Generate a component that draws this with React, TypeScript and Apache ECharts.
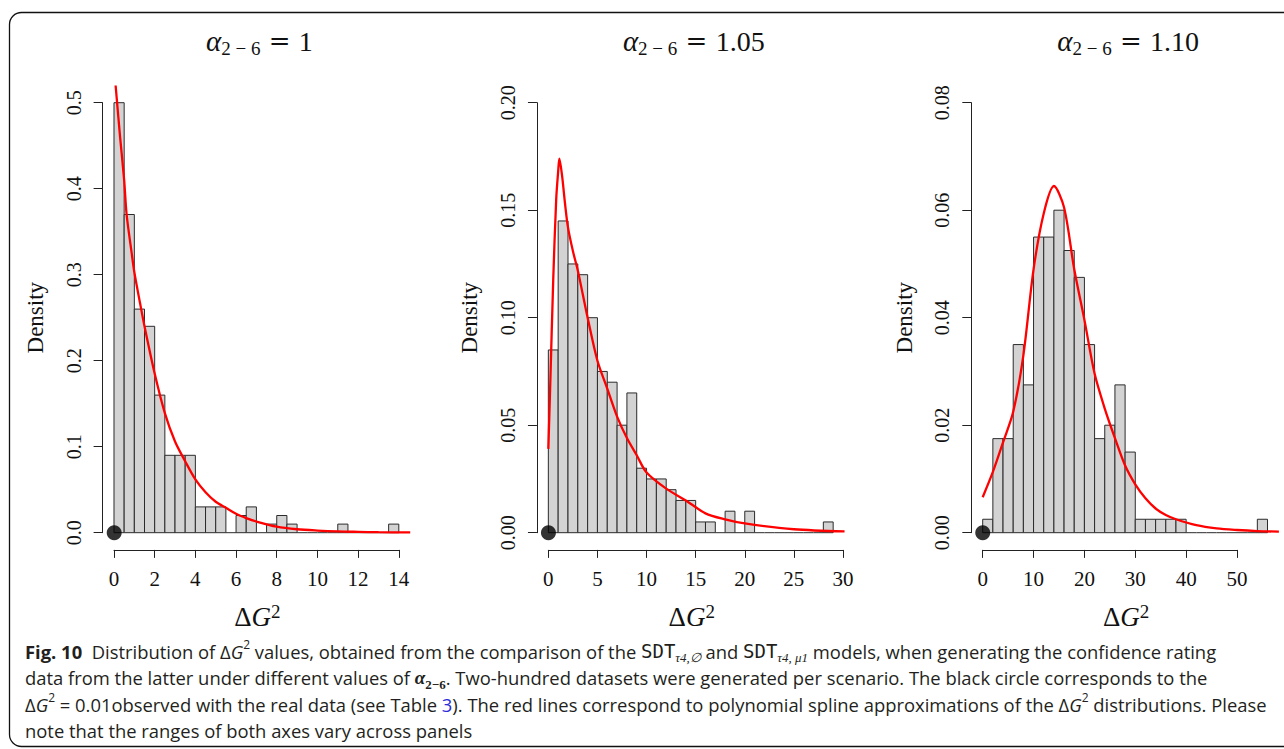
import React, { useEffect, useRef } from "react";
import * as echarts from "echarts";

// ---------- data ----------
const alphaLabels = ["1", "1.05", "1.10"];
const observedDeltaG2 = 0.01;

// Panel 1 (alpha = 1): histogram, bin width 0.5, from 0 to 14
const p1BinWidth = 0.5;
const p1Density = [
  0.5, 0.37, 0.26, 0.24, 0.16, 0.09, 0.09, 0.09, 0.03, 0.03, 0.03, 0, 0.02, 0.03,
  0, 0.01, 0.02, 0.01, 0, 0, 0, 0, 0.01, 0, 0, 0, 0, 0.01,
];
const p1Curve = [
  [0.08, 0.52], [0.3, 0.46], [0.5, 0.41], [0.62, 0.37], [0.87, 0.325], [1.0, 0.303],
  [1.28, 0.267], [1.5, 0.24], [2.0, 0.185], [2.5, 0.139], [3.0, 0.106], [3.5, 0.083],
  [4.0, 0.062], [4.5, 0.047], [5.0, 0.036], [5.5, 0.029], [6.0, 0.022], [6.5, 0.017],
  [7.0, 0.013], [8.0, 0.007], [9.0, 0.004], [10.0, 0.0025], [11.0, 0.0015], [12.0, 0.001],
  [13.0, 0.0006], [14.56, 0.0003],
];
const p1XTicks = { max: 14, interval: 2 };
const p1YTicks = { max: 0.5, interval: 0.1, digits: 1 };

// Panel 2 (alpha = 1.05): bin width 1, from 0 to 29
const p2BinWidth = 1;
const p2Density = [
  0.085, 0.145, 0.125, 0.12, 0.1, 0.075, 0.07, 0.05, 0.065, 0.03, 0.025, 0.025, 0.02,
  0.015, 0.015, 0.005, 0.005, 0, 0.01, 0, 0.01, 0, 0, 0, 0, 0, 0, 0, 0.005,
];
const p2Curve = [
  [0, 0.039], [0.2, 0.07], [0.5, 0.118], [0.8, 0.155], [1.0, 0.168], [1.12, 0.174],
  [1.4, 0.166], [1.7, 0.153], [2.0, 0.142], [2.5, 0.131], [3.0, 0.122], [3.5, 0.111],
  [4.0, 0.1], [5.0, 0.08], [6.0, 0.067], [7.0, 0.054], [8.0, 0.044], [9.0, 0.036],
  [10.0, 0.028], [12.0, 0.0205], [14.0, 0.015], [16.0, 0.009], [18.0, 0.0062],
  [20.0, 0.0043], [25.0, 0.0016], [30.16, 0.0006],
];
const p2XTicks = { max: 30, interval: 5 };
const p2YTicks = { max: 0.2, interval: 0.05, digits: 2 };

// Panel 3 (alpha = 1.10): bin width 2, from 0 to 56
const p3BinWidth = 2;
const p3Density = [
  0.0025, 0.0175, 0.0175, 0.035, 0.0275, 0.055, 0.055, 0.06, 0.0525, 0.0475, 0.035,
  0.0175, 0.02, 0.0275, 0.015, 0.0025, 0.0025, 0.0025, 0.0025, 0.0025, 0, 0, 0, 0, 0,
  0, 0, 0.0025,
];
const p3Curve = [
  [0, 0.0066], [2, 0.0113], [4, 0.0168], [6, 0.0225], [8, 0.033], [10, 0.049],
  [12, 0.0594], [14, 0.0645], [16, 0.0605], [18, 0.049], [20, 0.0396], [22, 0.0296],
  [24, 0.0231], [26, 0.0176], [28, 0.0125], [30, 0.009], [32, 0.0064], [34, 0.0045],
  [36, 0.0033], [38, 0.0025], [42, 0.0014], [46, 0.0008], [50, 0.0005], [54, 0.0003],
  [58.24, 0.0002],
];
const p3XTicks = { max: 50, interval: 10 };
const p3YTicks = { max: 0.08, interval: 0.02, digits: 2 };

const panels = [
  { binWidth: p1BinWidth, density: p1Density, curve: p1Curve, xt: p1XTicks, yt: p1YTicks },
  { binWidth: p2BinWidth, density: p2Density, curve: p2Curve, xt: p2XTicks, yt: p2YTicks },
  { binWidth: p3BinWidth, density: p3Density, curve: p3Curve, xt: p3XTicks, yt: p3YTicks },
];

// ---------- layout (R-style plot regions) ----------
const PLOT_LEFT0 = 102.6;
const PANEL_STEP = 434.35;
const PLOT_W = 307.6;
const PLOT_TOP = 85.5;
const PLOT_H = 464.4;
const SERIF = "'Liberation Serif', 'Times New Roman', serif";
const SANS = "'Open Sans', 'Noto Sans', sans-serif";
const MONO = "DejaVu Sans Mono";
const AXIS_COLOR = "#222";
const INK = "#111";
const CAP = "#231f20";
const CAP_SIZE = 18.4;

function buildOption() {
  const grids: any[] = [];
  const xAxes: any[] = [];
  const yAxes: any[] = [];
  const series: any[] = [];
  const graphics: any[] = [];

  panels.forEach((p, i) => {
    const plotLeft = PLOT_LEFT0 + PANEL_STEP * i;
    const xRange = p.density.length * p.binWidth;
    const ppuX = PLOT_W / (1.08 * xRange);
    const ppuY = PLOT_H / (1.08 * p.yt.max);
    const xOff = 0.04 * xRange * ppuX;
    const yOff = 0.04 * p.yt.max * ppuY;
    const axIdx = 2 * i;
    const plIdx = 2 * i + 1;

    // grid holding the visible R-style axes (spanning only the tick range)
    grids.push({
      left: plotLeft + xOff,
      top: PLOT_TOP + yOff,
      width: p.xt.max * ppuX,
      height: p.yt.max * ppuY,
      containLabel: false,
    });
    // grid of the full plot region (usr coordinates), where the data are drawn
    grids.push({
      left: plotLeft,
      top: PLOT_TOP,
      width: PLOT_W,
      height: PLOT_H,
      containLabel: false,
    });

    xAxes.push({
      type: "value",
      gridIndex: axIdx,
      min: 0,
      max: p.xt.max,
      interval: p.xt.interval,
      offset: yOff,
      axisLine: { show: true, onZero: false, lineStyle: { color: AXIS_COLOR, width: 1 } },
      axisTick: { show: true, length: 8, lineStyle: { color: AXIS_COLOR, width: 1 } },
      axisLabel: { fontFamily: SERIF, fontSize: 21, color: INK, margin: 19 },
      splitLine: { show: false },
    });
    xAxes.push({
      type: "value",
      gridIndex: plIdx,
      min: -0.04 * xRange,
      max: 1.04 * xRange,
      show: false,
    });
    yAxes.push({
      type: "value",
      gridIndex: axIdx,
      min: 0,
      max: p.yt.max,
      interval: p.yt.interval,
      offset: xOff,
      axisLine: { show: true, onZero: false, lineStyle: { color: AXIS_COLOR, width: 1 } },
      axisTick: { show: true, length: 9, lineStyle: { color: AXIS_COLOR, width: 1 } },
      axisLabel: {
        fontFamily: SERIF,
        fontSize: 20,
        color: INK,
        rotate: 90,
        margin: 19,
        formatter: (v: number) => v.toFixed(p.yt.digits),
      },
      splitLine: { show: false },
    });
    yAxes.push({
      type: "value",
      gridIndex: plIdx,
      min: -0.04 * p.yt.max,
      max: 1.04 * p.yt.max,
      show: false,
    });

    series.push({
      type: "custom",
      xAxisIndex: plIdx,
      yAxisIndex: plIdx,
      clip: false,
      z: 2,
      data: p.density.map((d, k) => [k * p.binWidth, (k + 1) * p.binWidth, d]),
      encode: { x: [0, 1], y: 2 },
      renderItem: (_params: any, api: any) => {
        const x0 = api.value(0);
        const x1 = api.value(1);
        const h = api.value(2);
        const a = api.coord([x0, 0]);
        const b = api.coord([x1, h]);
        if (h <= 0) {
          return {
            type: "line",
            shape: { x1: a[0], y1: a[1], x2: b[0], y2: a[1] },
            style: { stroke: "#2b2b2b", lineWidth: 1 },
          };
        }
        return {
          type: "rect",
          shape: { x: a[0], y: b[1], width: b[0] - a[0], height: a[1] - b[1] },
          style: { fill: "#d3d3d3", stroke: "#2b2b2b", lineWidth: 1 },
        };
      },
    });
    series.push({
      type: "line",
      xAxisIndex: plIdx,
      yAxisIndex: plIdx,
      data: p.curve,
      showSymbol: false,
      smooth: 0.3,
      clip: true,
      z: 4,
      lineStyle: { color: "#ff0000", width: 2.3 },
    });
    series.push({
      type: "scatter",
      xAxisIndex: plIdx,
      yAxisIndex: plIdx,
      data: [[observedDeltaG2, 0]],
      symbol: "circle",
      symbolSize: 15,
      clip: false,
      z: 5,
      itemStyle: { color: "#000" },
    });

    const cx = plotLeft + PLOT_W / 2;
    // panel title
    graphics.push({
      type: "text",
      x: cx + 3,
      y: 41,
      style: {
        text: `{a|α}{s|2 − 6}{e| = }{n|${alphaLabels[i]}}`,
        align: "center",
        verticalAlign: "middle",
        rich: {
          a: { fontFamily: SERIF, fontStyle: "italic", fontSize: 29, lineHeight: 34, fill: INK },
          s: { fontFamily: SERIF, fontSize: 19, verticalAlign: "bottom", fill: INK },
          e: { fontFamily: "'DejaVu Serif', serif", fontSize: 26, lineHeight: 34, fill: INK },
          n: { fontFamily: SERIF, fontSize: 28, lineHeight: 34, fill: INK },
        },
      },
    });
    // x label
    graphics.push({
      type: "text",
      x: cx + 1,
      y: 617,
      style: {
        text: "{d|Δ}{g|G}{s|2}",
        align: "center",
        verticalAlign: "middle",
        rich: {
          d: { fontFamily: SERIF, fontSize: 27, lineHeight: 31, fill: INK },
          g: { fontFamily: SERIF, fontStyle: "italic", fontSize: 27, lineHeight: 31, fill: INK },
          s: { fontFamily: SERIF, fontSize: 19, verticalAlign: "top", fill: INK },
        },
      },
    });
    // y label
    graphics.push({
      type: "text",
      x: plotLeft - 67,
      y: PLOT_TOP + PLOT_H / 2,
      rotation: Math.PI / 2,
      style: {
        text: "Density",
        align: "center",
        verticalAlign: "middle",
        fontFamily: SERIF,
        fontSize: 23,
        fill: INK,
      },
    });
  });

  // rounded frame around the figure
  graphics.push({
    type: "rect",
    shape: { x: 9.5, y: 12.5, width: 1300, height: 734, r: 12 },
    style: { fill: "none", stroke: INK, lineWidth: 1.3 },
    z: -1,
  });

  const capRich = {
    b: { fontFamily: SANS, fontWeight: "bold", fontSize: CAP_SIZE, lineHeight: 26, fill: CAP },
    d: { fontFamily: SANS, fontSize: CAP_SIZE, lineHeight: 26, fill: CAP },
    gi: { fontFamily: SANS, fontStyle: "italic", fontSize: CAP_SIZE, lineHeight: 26, fill: CAP },
    sup: { fontFamily: SANS, fontSize: 12, lineHeight: 12, verticalAlign: "top", fill: CAP },
    mono: { fontFamily: MONO, fontSize: 19, lineHeight: 26, fill: CAP },
    ms: { fontFamily: SERIF, fontStyle: "italic", fontSize: 13, lineHeight: 13, verticalAlign: "bottom", fill: CAP },
    ai: { fontFamily: SERIF, fontStyle: "italic", fontWeight: "bold", fontSize: 19, lineHeight: 26, fill: CAP },
    as: { fontFamily: SERIF, fontWeight: "bold", fontSize: 13, lineHeight: 13, verticalAlign: "bottom", fill: CAP },
    link: { fontFamily: SANS, fontSize: CAP_SIZE, lineHeight: 26, fill: "#2b2bd9" },
  };
  const captionLines = [
    "{b|Fig. 10}  Distribution of {d|Δ}{gi|G}{sup|2} values, obtained from the comparison of the {mono|SDT}{ms|τ4,∅} and {mono|SDT}{ms|τ4, μ1} models, when generating the confidence rating",
    "data from the latter under different values of {ai|α}{as|2−6}. Two-hundred datasets were generated per scenario. The black circle corresponds to the",
    "{d|Δ}{gi|G}{sup|2} = 0.01observed with the real data (see Table {link|3}). The red lines correspond to polynomial spline approximations of the {d|Δ}{gi|G}{sup|2} distributions. Please",
    "note that the ranges of both axes vary across panels",
  ];
  const capY = [651, 677.5, 704, 730.5];
  captionLines.forEach((t, k) => {
    graphics.push({
      type: "text",
      x: 25,
      y: capY[k],
      style: {
        text: t,
        align: "left",
        verticalAlign: "middle",
        fontFamily: SANS,
        fontSize: CAP_SIZE,
        lineHeight: 26,
        fill: CAP,
        rich: capRich,
      },
    });
  });

  return {
    animation: false,
    backgroundColor: "#fff",
    grid: grids,
    xAxis: xAxes,
    yAxis: yAxes,
    series,
    graphic: { elements: graphics },
  };
}

export default function App() {
  const ref = useRef<HTMLDivElement>(null);
  useEffect(() => {
    if (!ref.current) return;
    const chart = echarts.init(ref.current, null, { renderer: "svg" });
    chart.setOption(buildOption() as any);
    return () => chart.dispose();
  }, []);
  return (
    <div
      ref={ref}
      style={{ position: "fixed", left: 0, top: 0, width: 1284, height: 749, background: "#fff" }}
    />
  );
}
